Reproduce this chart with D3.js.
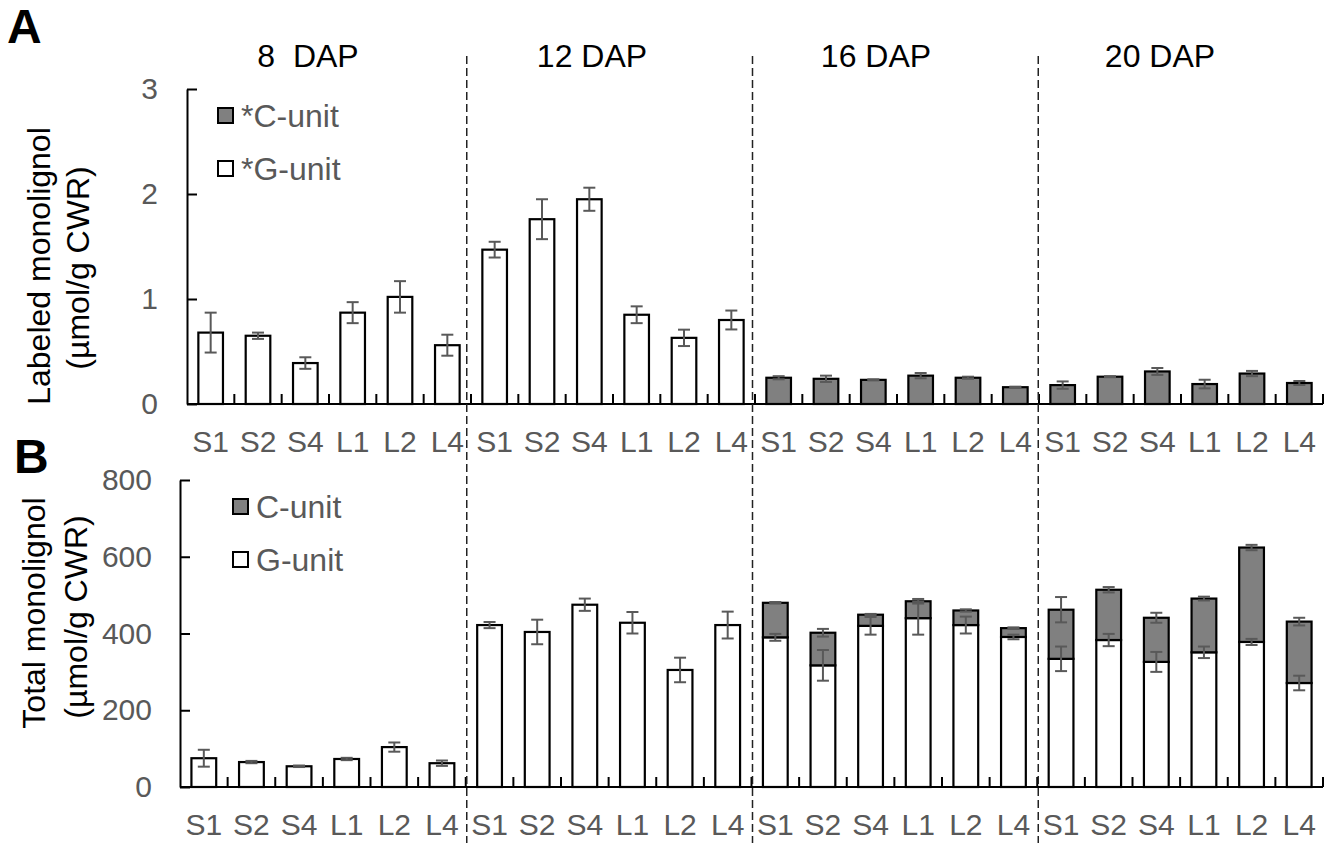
<!DOCTYPE html>
<html>
<head>
<meta charset="utf-8">
<script src="https://cdn.jsdelivr.net/npm/d3@7"></script>
<style>
  body { margin: 0; background: #fff; }
  svg { font-family: "Liberation Sans", Arial, sans-serif; }
  .axis path, .axis line { stroke: #000; stroke-width: 2; }
  .axis text { fill: #595959; font-size: 30px; }
</style>
</head>
<body>
<div id="chart"></div>
<script>
// samples and stages
const lines = ["S1", "S2", "S4", "L1", "L2", "L4"];
const stages = ["8  DAP", "12 DAP", "16 DAP", "20 DAP"];

// Panel A: labeled monolignol (umol/g CWR)
const labeledG = [0.68, 0.65, 0.39, 0.87, 1.02, 0.56, 1.47, 1.76, 1.95, 0.85, 0.63, 0.80,
  0, 0, 0, 0, 0, 0, 0, 0, 0, 0, 0, 0];
const labeledGErr = [0.19, 0.03, 0.055, 0.10, 0.15, 0.10, 0.075, 0.19, 0.11, 0.08, 0.078, 0.09,
  0, 0, 0, 0, 0, 0, 0, 0, 0, 0, 0, 0];
const labeledC = [0, 0, 0, 0, 0, 0, 0, 0, 0, 0, 0, 0,
  0.25, 0.24, 0.23, 0.27, 0.25, 0.16, 0.18, 0.26, 0.31, 0.19, 0.29, 0.20];
const labeledCErr = [0, 0, 0, 0, 0, 0, 0, 0, 0, 0, 0, 0,
  0.015, 0.03, 0.005, 0.025, 0.01, 0.005, 0.035, 0.005, 0.033, 0.041, 0.025, 0.019];

// Panel B: total monolignol (umol/g CWR)
const totalG = [75, 65, 54, 73, 104, 62, 422, 404, 475, 428, 305, 422,
  390, 317, 420, 440, 422, 391, 334, 383, 326, 351, 378, 271];
const totalGErr = [22, 3, 2, 3, 12, 7, 8, 32, 16, 28, 32, 35,
  9, 40, 23, 43, 22, 6, 32, 16, 26, 15, 8, 19];
const totalC = [0, 0, 0, 0, 0, 0, 0, 0, 0, 0, 0, 0,
  90, 85, 29, 44, 38, 23, 128, 131, 115, 140, 246, 160];
const totalCErr = [0, 0, 0, 0, 0, 0, 0, 0, 0, 0, 0, 0,
  2, 10, 2, 6, 3, 2, 33, 7, 13, 5, 7, 10];

const yTicksA = [0, 1, 2, 3];
const yTicksB = [0, 200, 400, 600, 800];

const width = 1338, height = 843;
const greyFill = "#808080";
const textGrey = "#595959";

const keys = stages.flatMap((s, si) => lines.map(l => `${si}-${l}`));

const svg = d3.select("#chart").append("svg")
  .attr("width", width)
  .attr("height", height);

function drawPanel(cfg) {
  const x = d3.scaleBand()
    .domain(keys)
    .range([cfg.left, cfg.right])
    .paddingInner(0.48)
    .paddingOuter(0.24);

  const y = d3.scaleLinear()
    .domain(cfg.domain)
    .range([cfg.bottom, cfg.top]);

  const rows = keys.map((k, i) => ({
    key: k, g: cfg.g[i], gErr: cfg.gErr[i], c: cfg.c[i], cErr: cfg.cErr[i]
  }));

  const g = svg.append("g");

  // bars: G-unit at the bottom, C-unit stacked on top
  g.selectAll(".bar-g")
    .data(rows.filter(d => d.g > 0))
    .join("rect")
    .attr("class", "bar-g")
    .attr("x", d => x(d.key))
    .attr("width", x.bandwidth())
    .attr("y", d => y(d.g))
    .attr("height", d => y(0) - y(d.g))
    .attr("fill", "#fff")
    .attr("stroke", "#000")
    .attr("stroke-width", 2.2);

  g.selectAll(".bar-c")
    .data(rows.filter(d => d.c > 0))
    .join("rect")
    .attr("class", "bar-c")
    .attr("x", d => x(d.key))
    .attr("width", x.bandwidth())
    .attr("y", d => y(d.g + d.c))
    .attr("height", d => y(d.g) - y(d.g + d.c))
    .attr("fill", greyFill)
    .attr("stroke", "#000")
    .attr("stroke-width", 2.2);

  // error bars
  const errs = [];
  rows.forEach(d => {
    if (d.g > 0) errs.push({ key: d.key, v: d.g, e: d.gErr });
    if (d.c > 0) errs.push({ key: d.key, v: d.g + d.c, e: d.cErr });
  });
  const cx = d => x(d.key) + x.bandwidth() / 2;
  const errG = g.selectAll(".err")
    .data(errs)
    .join("g")
    .attr("class", "err")
    .attr("stroke", textGrey)
    .attr("stroke-width", 2);
  errG.append("line")
    .attr("x1", cx).attr("x2", cx)
    .attr("y1", d => y(d.v + d.e)).attr("y2", d => y(d.v - d.e));
  errG.append("line")
    .attr("x1", d => cx(d) - 6).attr("x2", d => cx(d) + 6)
    .attr("y1", d => y(d.v + d.e)).attr("y2", d => y(d.v + d.e));
  errG.append("line")
    .attr("x1", d => cx(d) - 6).attr("x2", d => cx(d) + 6)
    .attr("y1", d => y(d.v - d.e)).attr("y2", d => y(d.v - d.e));

  // y axis with inward ticks
  g.append("g")
    .attr("class", "axis")
    .attr("transform", `translate(${cfg.left},0)`)
    .call(d3.axisLeft(y).tickValues(cfg.ticks).tickFormat(d3.format("d"))
      .tickSize(-10).tickSizeOuter(0).tickPadding(cfg.tickPad));

  // x axis baseline and boundary ticks
  const step = x.step();
  g.append("line")
    .attr("x1", cfg.left).attr("x2", cfg.right)
    .attr("y1", y(0)).attr("y2", y(0))
    .attr("stroke", "#000").attr("stroke-width", 2);
  g.selectAll(".bound")
    .data(d3.range(1, keys.length + 1))
    .join("line")
    .attr("class", "bound")
    .attr("x1", k => cfg.left + k * step).attr("x2", k => cfg.left + k * step)
    .attr("y1", y(0)).attr("y2", y(0) - 10)
    .attr("stroke", "#000").attr("stroke-width", 2);

  // x labels
  const xAxisG = g.append("g")
    .attr("class", "axis")
    .attr("transform", `translate(0,${y(0)})`)
    .call(d3.axisBottom(x).tickSize(0).tickPadding(27).tickFormat(k => k.split("-")[1]));
  xAxisG.select(".domain").remove();

  // y title (two lines)
  cfg.title.forEach((t, i) => {
    g.append("text")
      .attr("transform", `translate(${cfg.titleX[i]},${cfg.titleY[i]}) rotate(-90)`)
      .attr("text-anchor", "middle")
      .attr("font-size", 32)
      .attr("fill", "#000")
      .text(t);
  });

  // legend
  cfg.legend.forEach((item, i) => {
    const ly = cfg.legendY + i * 53;
    g.append("rect")
      .attr("x", cfg.legendX).attr("y", ly)
      .attr("width", 15).attr("height", 15)
      .attr("fill", item.fill)
      .attr("stroke", "#000").attr("stroke-width", 2);
    g.append("text")
      .attr("x", cfg.legendX + 23).attr("y", ly + 19)
      .attr("font-size", 32)
      .attr("fill", textGrey)
      .text(item.label);
  });

  // panel letter
  g.append("text")
    .attr("x", cfg.letterX).attr("y", cfg.letterY)
    .attr("font-size", 48)
    .attr("font-weight", "bold")
    .attr("fill", "#000")
    .text(cfg.letter);

  return x;
}

const xA = drawPanel({
  left: 187, right: 1323, top: 89, bottom: 404, domain: [0, 3], ticks: yTicksA, tickPad: 29,
  g: labeledG, gErr: labeledGErr, c: labeledC, cErr: labeledCErr,
  title: ["Labeled monolignol", "(\u00b5mol/g CWR)"], titleX: [50, 89], titleY: [266, 268],
  legend: [{ fill: greyFill, label: "*C-unit" }, { fill: "#fff", label: "*G-unit" }],
  legendX: 218, legendY: 108,
  letter: "A", letterX: 7, letterY: 43
});

const xB = drawPanel({
  left: 180, right: 1323, top: 480, bottom: 787, domain: [0, 800], ticks: yTicksB, tickPad: 28,
  g: totalG, gErr: totalGErr, c: totalC, cErr: totalCErr,
  title: ["Total monolignol", "(\u00b5mol/g CWR)"], titleX: [45, 87], titleY: [613, 617],
  legend: [{ fill: greyFill, label: "C-unit" }, { fill: "#fff", label: "G-unit" }],
  legendX: 233, legendY: 499,
  letter: "B", letterX: 14, letterY: 473
});

// stage titles and dashed separators
const stepA = xA.step();
svg.selectAll(".stage")
  .data(stages)
  .join("text")
  .attr("class", "stage")
  .attr("x", (d, i) => 187 + (6 * i + 3) * stepA - 21)
  .attr("y", 67)
  .attr("text-anchor", "middle")
  .attr("font-size", 32)
  .attr("fill", "#000")
  .style("white-space", "pre")
  .text(d => d);

const stepB = xB.step();
svg.selectAll(".sep")
  .data([6, 12, 18])
  .join("line")
  .attr("class", "sep")
  .attr("x1", k => 180 + k * stepB + 1).attr("x2", k => 180 + k * stepB + 1)
  .attr("y1", 56).attr("y2", height)
  .attr("stroke", "#222")
  .attr("stroke-width", 1.5)
  .attr("stroke-dasharray", "8,4");
</script>
</body>
</html>
